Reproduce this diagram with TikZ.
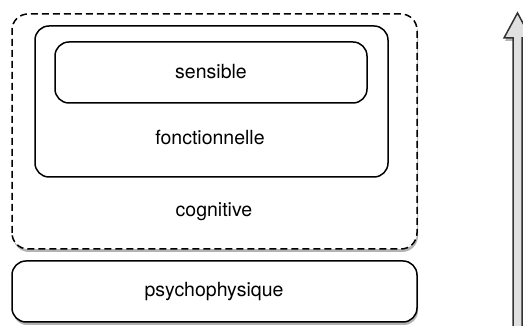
\documentclass[tikz,border=0pt]{standalone}
\usepackage{fontspec}
\setmainfont{TeX Gyre Heros}
\usetikzlibrary{shadows}

\begin{document}
\begin{tikzpicture}[x=1pt,y=1pt,
  box/.style={draw=black,line width=1.5pt,rounded corners=14pt},
  shade/.style={drop shadow={shadow xshift=1pt,shadow yshift=-3pt,opacity=0.6}},
  lab/.style={font=\fontsize{19.5}{23}\selectfont,text=black}]
\useasboundingbox (0,0) rectangle (523,326);

\draw[box,shade,fill=white,dash pattern=on 7pt off 4pt,rounded corners=16pt] (12,77) rectangle (417,312); %cognitive
\draw[box] (35,149) rectangle (388,300); %fonctionnelle
\draw[box] (55,223) rectangle (367,284); %sensible
\draw[box,shade,fill=white] (12,4) rectangle (417,65); %psychophysique

\node[lab] (sensible) at (211,254) {sensible}; %box contents
\node[lab] (fonct) at (210,188) {fonctionnelle};
\node[lab] (cogn) at (214,114) {cognitive};
\node[lab] (psycho) at (214,34) {psychophysique};

\draw[shade,draw=black!80,line width=1.5pt,fill=black!12,line join=miter]
  (513,-10) -- (513,288) -- (504,288) -- (517.5,313) -- (531,288)
  -- (522,288) -- (522,-10) -- cycle; %arrow
\end{tikzpicture}
\end{document}
